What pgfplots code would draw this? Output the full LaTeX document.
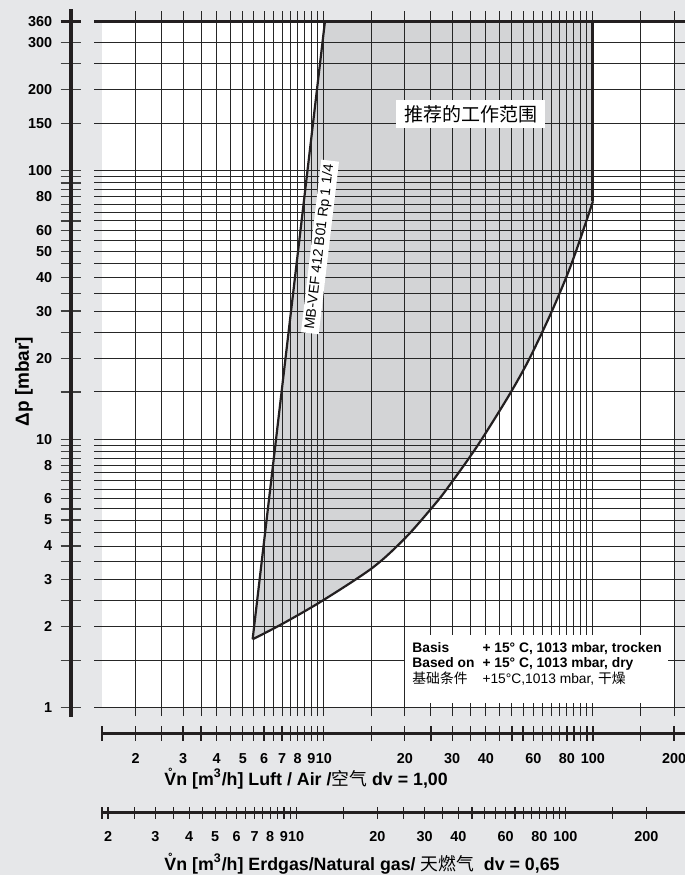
\documentclass[border=0pt]{standalone}
\usepackage{fontspec}
\setmainfont{Liberation Sans}
\newfontfamily\cjk{Noto Sans CJK SC}
\usepackage{pgfplots}
\pgfplotsset{compat=1.18}
\definecolor{bgc}{RGB}{230,231,233}
\definecolor{shadec}{RGB}{211,212,214}
\definecolor{ink}{RGB}{35,31,32}
\begin{document}
\begin{tikzpicture}
\useasboundingbox (-47pt,-79.5pt) rectangle (295.5pt,358pt);
\fill[bgc] (-47pt,-79.5pt) rectangle (295.5pt,358pt);

% fills
\begin{axis}[at={(0,0)}, anchor=south west, scale only axis, width=295.5pt, height=352.5pt,
  xmode=log, ymode=log, xmin=1.4007, xmax=219.7, ymin=0.9313, ymax=393.4, hide axis]
\addplot[fill=white, draw=none] coordinates {(1.5,1)(200,1)(200,360)(1.5,360)} -- cycle;
\addplot[fill=shadec, draw=none] coordinates {(5.44,1.798)(10.1,360)(100,360)(100,77)(87.73,52.2)(79.88,40.47)(69.23,28.91)(57.86,19.81)(49.17,14.77)(39.70,10.44)(34.93,8.606)(29.43,6.769)(26.27,5.836)(20.32,4.341)(15.27,3.337)(9.96,2.515)(7.07,2.061)} -- cycle;
\end{axis}

% grid, curves, texts
\begin{axis}[at={(0,0)}, anchor=south west, scale only axis, width=295.5pt, height=352.5pt,
  xmode=log, ymode=log, xmin=1.4007, xmax=219.7, ymin=0.9313, ymax=393.4,
  axis line style={draw=none}, major tick length=0pt, minor tick length=0pt,
  xticklabels={}, yticklabels={},
  xtick={2,2.5,3,3.5,4,4.5,5,5.5,6,6.5,7,7.5,8,8.5,9,9.5,10,15,20,25,30,35,40,45,50,55,60,65,70,75,80,85,90,95,100,150,200},
  ytick={1,1.5,2,2.5,3,3.5,4,4.5,5,5.5,6,6.5,7,7.5,8,8.5,9,9.5,10,15,20,25,30,35,40,45,50,55,60,65,70,75,80,85,90,95,100,150,200,250,300},
  grid=major, major grid style={black!85, line width=0.5pt},
  extra y ticks={360}, extra y tick labels={}, extra y tick style={major grid style={ink, line width=1.5pt}}]
\addplot[ink, line width=1.1pt] coordinates {(5.44,1.798)(10.1,360)};
\addplot[ink, line width=1.1pt, smooth, tension=0.5] coordinates {(5.44,1.798)(7.07,2.061)(9.96,2.515)(15.27,3.337)(20.32,4.341)(26.27,5.836)(29.43,6.769)(34.93,8.606)(39.70,10.44)(49.17,14.77)(57.86,19.81)(69.23,28.91)(79.88,40.47)(87.73,52.2)(100,77)};
\addplot[ink, line width=1.5pt] coordinates {(100,77)(100,360)};
\node[fill=white, inner xsep=4pt, inner ysep=2.5pt, font=\cjk\fontsize{9.5}{11}\selectfont] at (axis cs:35.14,162.9) {推荐的工作范围};
\node[fill=white, rotate=83.3, inner xsep=2pt, inner ysep=1.2pt, font=\fontsize{7}{8}\selectfont] at (axis cs:9.68,52) {MB-VEF 412 B01 Rp 1 1/4};
\node[fill=white, anchor=north west, inner sep=0pt, minimum width=131.5pt, minimum height=34pt] (bx) at (axis cs:20.03,1.866) {};
\node[anchor=north west, inner sep=0pt, align=left, font=\fontsize{6.9}{7.6}\selectfont] at ([xshift=3.5pt,yshift=-3pt]bx.north west) {\begin{tabular}{@{}l@{\hspace{4pt}}l@{}}\textbf{Basis} & \textbf{+ 15° C, 1013 mbar, trocken}\\ \textbf{Based on} & \textbf{+ 15° C, 1013 mbar, dry}\\ {\cjk 基础条件} & +15°C,1013 mbar, {\cjk 干燥}\end{tabular}};
\end{axis}

% y scale
\begin{axis}[at={(-11.5pt,-0.5pt)}, anchor=south west, scale only axis, width=1pt, height=354pt,
  ymode=log, ymin=0.9233, ymax=400.2, xmin=0, xmax=1,
  axis x line=none, axis y line=left, axis line style={-, ink, line width=1.6pt},
  tick align=center, major tick length=10.5pt, minor tick length=10.5pt,
  tick style={black!75, line width=0.6pt},
  ytick={1,2,3,4,5,6,8,10,20,30,40,50,60,80,100,150,200,300},
  yticklabels={1,2,3,4,5,6,8,10,20,30,40,50,60,80,100,150,200,300},
  minor ytick={1.5,2.5,3.5,4.5,5.5,6.5,7,7.5,8.5,9,9.5,15,25,35,45,55,65,70,75,85,90,95,250},
  extra y ticks={360}, extra y tick labels={360},
  extra y tick style={major tick style={ink, line width=1.5pt}},
  yticklabel style={font=\bfseries\fontsize{7.2}{8}\selectfont, inner sep=0pt, anchor=east, xshift=-4pt},
  ylabel={Δp [mbar]},
  ylabel style={font=\bfseries\fontsize{9.5}{11}\selectfont, at={(axis description cs:-23.5,0.4736)}, anchor=center}]
\end{axis}

% air scale
\begin{axis}[at={(4pt,-8.65pt)}, anchor=south west, scale only axis, width=291.5pt, height=1pt,
  xmode=log, xmin=1.5, xmax=219.7, ymin=0, ymax=1,
  axis y line=none, axis x line=bottom, axis line style={-, ink, line width=1.4pt},
  tick align=center, major tick length=7.5pt, minor tick length=7.5pt,
  tick style={ink, line width=0.6pt},
  xtick={2,3,4,5,6,7,8,9,10,20,30,40,60,80,100},
  xticklabels={2,3,4,5,6,7,8,9,10,20,30,40,60,80,100},
  minor xtick={1.501,2.5,3.5,4.5,5.5,6.5,7.5,8.5,9.5,15,25,35,45,50,55,65,70,75,85,90,95,150},
  extra x ticks={200}, extra x tick labels={200},
  extra x tick style={major tick style={ink, line width=1.3pt}},
  xticklabel style={font=\bfseries\fontsize{7.2}{8}\selectfont, inner sep=0pt, anchor=north, yshift=-6pt},
  xlabel={\textbf{\r{V}n [m\textsuperscript{3}/h] Luft / Air /}{\cjk\mdseries 空气}\textbf{ dv = 1,00}},
  xlabel style={font=\fontsize{8.9}{10}\selectfont, inner sep=0pt, at={(axis description cs:0,0)}, anchor=base west, xshift=31pt, yshift=-25.85pt}]
\end{axis}

% gas scale
\begin{axis}[at={(4pt,-48.35pt)}, anchor=south west, scale only axis, width=291.5pt, height=1pt,
  xmode=log, xmin=1.8987, xmax=278.1, ymin=0, ymax=1,
  axis y line=none, axis x line=bottom, axis line style={-, ink, line width=1.4pt},
  tick align=center, major tick length=6pt, minor tick length=6pt,
  tick style={ink, line width=0.6pt},
  xtick={2,3,4,5,6,7,8,9,10,20,30,40,60,80,100,200},
  xticklabels={2,3,4,5,6,7,8,9,10,20,30,40,60,80,100,200},
  minor xtick={1.9,2.5,3.5,4.5,5.5,6.5,7.5,8.5,9.5,15,25,35,45,50,55,65,70,75,85,90,95,150},
  xticklabel style={font=\bfseries\fontsize{7.2}{8}\selectfont, inner sep=0pt, anchor=north, yshift=-6pt},
  xlabel={\textbf{\r{V}n [m\textsuperscript{3}/h] Erdgas/Natural gas/ }{\cjk\mdseries 天燃气}\textbf{\ \ dv = 0,65}},
  xlabel style={font=\fontsize{8.9}{10}\selectfont, inner sep=0pt, at={(axis description cs:0,0)}, anchor=base west, xshift=31pt, yshift=-28.65pt}]
\end{axis}
\end{tikzpicture}
\end{document}
